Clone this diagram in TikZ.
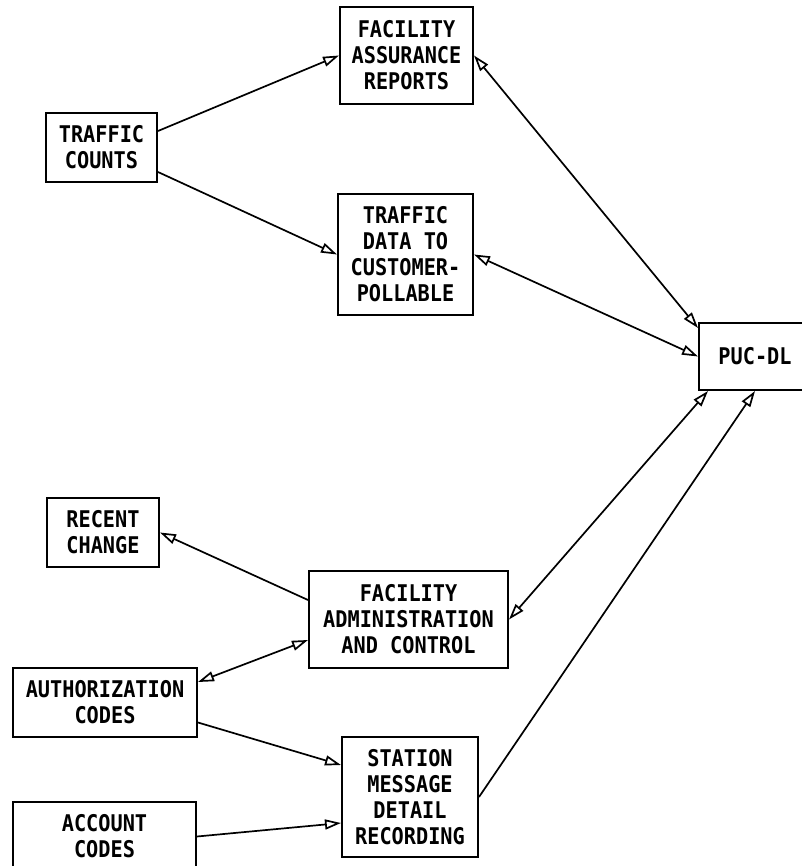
\documentclass[tikz,border=0pt]{standalone}
\usepackage{fontspec}
\setmonofont[FakeStretch=0.88]{DejaVu Sans Mono}
\usetikzlibrary{arrows.meta}
\begin{document}
\begin{tikzpicture}[x=1pt,y=-1pt,
  box/.style={draw, line width=2pt, inner sep=0pt, align=center,
    font=\ttfamily\bfseries\fontsize{23}{26}\selectfont},
  head/.tip={Triangle[open, length=16pt, width=10pt, line width=1.7pt]},
  conn/.style={line width=1.7pt, -head},
  both/.style={line width=1.7pt, head-head}]
  \fill[white] (0,0) rectangle (801,866);
  \useasboundingbox (0,0) rectangle (801,866);

  % boxes
  \node[box, minimum width=111pt, minimum height=69pt] (tc)   at (101.5,147.5) {TRAFFIC\\COUNTS};
  \node[box, minimum width=133pt, minimum height=97pt] (far)  at (406.5,55.5)  {FACILITY\\ASSURANCE\\REPORTS};
  \node[box, minimum width=135pt, minimum height=121pt] (tdcp) at (405.5,254.5) {TRAFFIC\\DATA TO\\CUSTOMER-\\POLLABLE};
  \node[box, minimum width=112pt, minimum height=67pt] (puc)  at (755,356.5)   {PUC-DL};
  \node[box, minimum width=112pt, minimum height=69pt] (rc)   at (103,532.5)   {RECENT\\CHANGE};
  \node[box, minimum width=199pt, minimum height=97pt] (fac)  at (408.5,619.5) {FACILITY\\ADMINISTRATION\\AND CONTROL};
  \node[box, minimum width=184pt, minimum height=69pt] (auth) at (105,702.5)   {AUTHORIZATION\\CODES};
  \node[box, minimum width=136pt, minimum height=120pt] (smdr) at (410,797)    {STATION\\MESSAGE\\DETAIL\\RECORDING};
  \node[box, minimum width=183pt, minimum height=69pt] (acc)  at (104.5,836.5) {ACCOUNT\\CODES};

  % connectors
  \draw[conn] ([yshift=16.5pt]tc.east) -- (far.west);
  \draw[conn] ([yshift=-24.5pt]tc.east) -- (tdcp.west);
  \draw[both] (far.east) -- ([yshift=-6pt]puc.north west);
  \draw[both] (tdcp.east) -- (puc.west);
  \draw[both] (fac.east) -- ([xshift=10pt]puc.south west);
  \draw[conn] (smdr.east) -- (puc.south);
  \draw[conn] ([yshift=19.5pt]fac.west) -- (rc.east);
  \draw[both] ([yshift=20.5pt]auth.east) -- ([yshift=-20.5pt]fac.west);
  \draw[conn] ([yshift=-20pt]auth.east) -- ([yshift=32pt]smdr.west);
  \draw[conn] (acc.east) -- ([yshift=-26pt]smdr.west);
\end{tikzpicture}
\end{document}
